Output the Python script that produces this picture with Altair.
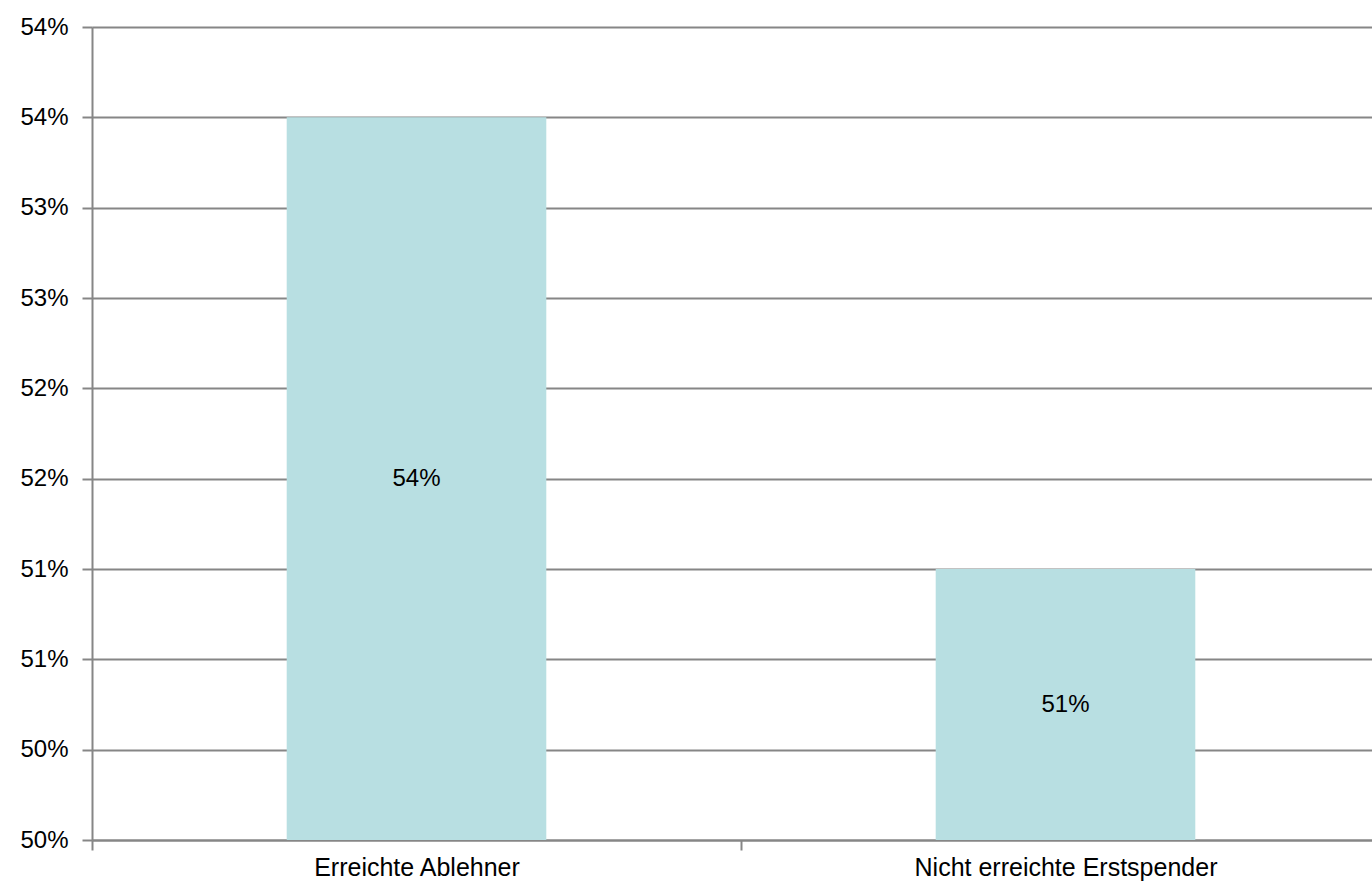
import altair as alt
import pandas as pd

# Share of each group, in percent
categories = ["Erreichte Ablehner", "Nicht erreichte Erstspender"]
shares = [54.0, 51.5]

# Value axis: ticks every half percent, labels shown as whole percents
axis_min = 50.0
axis_max = 54.5
tick_values = [50.0, 50.5, 51.0, 51.5, 52.0, 52.5, 53.0, 53.5, 54.0, 54.5]

df = pd.DataFrame({"Gruppe": categories, "Anteil": shares})

GRID = "#868686"
BAR = "#B8DFE2"
FONT = "Liberation Sans"

# Each category band is 649 px wide; the second band runs past the right edge
BAND_RANGE = [0, 1298]

base = alt.Chart(df).transform_calculate(
    label="floor(datum.Anteil + 1e-9) + '%'",
    mid=f"({axis_min} + datum.Anteil) / 2",
    floor_value=f"{axis_min}",
)

x_scale = alt.Scale(paddingInner=0, paddingOuter=0, range=BAND_RANGE)

x_enc = alt.X(
    "Gruppe:N",
    sort=categories,
    title=None,
    scale=x_scale,
    axis=alt.Axis(
        labelAngle=0,
        labelFont=FONT,
        labelFontSize=25,
        labelColor="#000000",
        labelPadding=5,
        labelLimit=600,
        tickBand="extent",
        tickSize=10,
        tickWidth=2,
        tickColor=GRID,
        domainColor=GRID,
        domainWidth=2,
        grid=False,
    ),
)

y_scale = alt.Scale(domain=[axis_min, axis_max], nice=False, zero=False)

bars = base.mark_bar(color=BAR, width=alt.RelativeBandSize(0.4)).encode(
    x=x_enc,
    y=alt.Y(
        "Anteil:Q",
        title=None,
        scale=y_scale,
        axis=alt.Axis(
            values=tick_values,
            labelExpr="floor(datum.value + 1e-9) + '%'",
            labelFont=FONT,
            labelFontSize=24,
            labelColor="#000000",
            labelPadding=14,
            tickSize=10,
            tickWidth=2,
            tickColor=GRID,
            domainColor=GRID,
            domainWidth=2,
            grid=True,
            gridColor=GRID,
            gridWidth=2,
        ),
    ),
    y2="floor_value:Q",
)

labels = base.mark_text(font=FONT, fontSize=24, color="#000000", baseline="middle").encode(
    x=alt.X("Gruppe:N", sort=categories),
    y=alt.Y("mid:Q"),
    text="label:N",
)

chart = (
    alt.layer(bars, labels)
    .properties(
        width=1280,
        height=813,
        autosize=alt.AutoSizeParams(type="none"),
        padding={"left": 92, "top": 27, "right": 0, "bottom": 47},
    )
    .configure_view(stroke=None)
    .configure(background="#ffffff")
)

chart.save("out.html", embed_options={"renderer": "svg", "actions": False})
